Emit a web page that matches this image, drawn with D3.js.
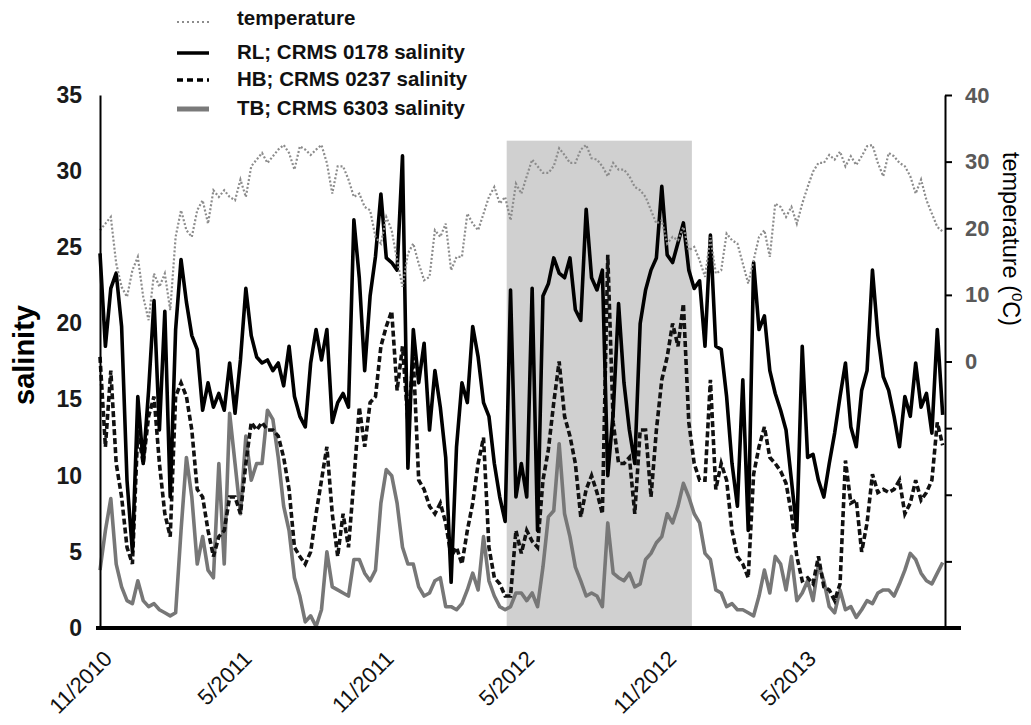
<!DOCTYPE html>
<html>
<head>
<meta charset="utf-8">
<script src="https://cdn.jsdelivr.net/npm/d3@7/dist/d3.min.js"></script>
<style>
  body { margin: 0; background: #fff; }
  svg { font-family: "Liberation Sans", Arial, sans-serif; }
</style>
</head>
<body>
<svg id="svg1" width="1031" height="725"></svg>
<script>
// weekly readings, first one on 19 Oct 2010
var firstDay = new Date(2010, 9, 19);

var rl = [24.6, 18.5, 22.3, 23.3, 19.8, 9.7, 5.0, 15.2, 10.8, 15.6,
  21.5, 13.0, 20.8, 8.6, 19.6, 24.2, 21.4, 19.2, 18.3, 14.3,
  16.1, 14.5, 15.4, 14.3, 17.4, 14.1, 17.6, 22.3, 19.2, 17.8,
  17.4, 17.6, 16.9, 17.4, 15.9, 18.5, 15.2, 13.9, 13.2, 17.4,
  19.6, 17.6, 19.6, 13.5, 14.8, 15.4, 14.5, 26.8, 23.0, 16.9,
  21.8, 24.4, 28.5, 24.3, 24.0, 23.5, 31.0, 10.5, 19.6, 16.1,
  18.7, 13.0, 16.9, 14.5, 11.2, 3.0, 11.9, 16.1, 14.8, 19.8,
  17.8, 14.8, 13.9, 10.8, 8.6, 7.0, 22.2, 8.6, 10.8, 8.6,
  22.3, 6.4, 21.8, 22.6, 24.3, 23.3, 23.0, 24.3, 20.9, 20.2,
  27.5, 23.0, 22.2, 23.5, 10.0, 14.1, 21.3, 16.1, 13.0, 10.8,
  20.0, 22.2, 23.5, 24.3, 29.0, 24.5, 24.0, 25.3, 26.6, 23.5,
  22.3, 22.8, 18.5, 25.8, 18.5, 18.3, 15.2, 10.8, 8.0, 16.3,
  6.4, 24.0, 19.6, 20.5, 16.9, 15.4, 14.3, 13.0, 9.7, 6.4,
  18.5, 11.2, 11.4, 9.7, 8.6, 10.8, 12.8, 15.2, 17.4, 13.2,
  11.9, 15.6, 16.9, 23.5, 19.2, 16.5, 15.6, 13.9, 11.9, 15.2,
  13.9, 17.4, 14.5, 15.4, 12.8, 19.6, 14.0];

var hb = [17.8, 11.9, 16.9, 10.8, 8.6, 5.3, 4.2, 13.0, 10.8, 13.9,
  15.2, 10.8, 7.5, 6.0, 15.2, 16.1, 15.2, 13.0, 9.1, 8.6,
  6.4, 4.7, 6.0, 6.4, 8.6, 8.6, 7.5, 10.8, 13.5, 13.0,
  13.5, 13.0, 13.0, 12.6, 11.2, 9.1, 5.3, 4.7, 4.2, 5.0,
  7.5, 9.7, 11.9, 7.5, 4.7, 7.5, 5.3, 9.7, 14.5, 11.9,
  14.8, 15.2, 18.5, 19.8, 20.8, 15.6, 18.5, 13.5, 17.8, 9.7,
  9.1, 8.0, 7.5, 8.2, 6.9, 4.7, 5.3, 4.2, 6.4, 8.2,
  10.8, 12.5, 5.3, 3.3, 2.9, 2.1, 2.1, 6.4, 4.9, 6.4,
  5.7, 5.3, 9.7, 11.7, 14.8, 17.5, 13.9, 12.6, 10.8, 7.3,
  9.1, 10.0, 8.9, 7.5, 24.5, 13.5, 10.8, 10.8, 11.2, 7.5,
  13.0, 13.0, 8.6, 13.0, 16.3, 17.8, 20.0, 18.5, 21.3, 13.5,
  10.8, 9.7, 9.7, 16.3, 9.1, 10.8, 9.7, 6.4, 4.7, 4.2,
  3.3, 10.1, 11.9, 13.2, 11.2, 10.8, 10.3, 9.5, 7.5, 4.7,
  3.1, 3.3, 2.9, 4.7, 2.7, 2.5, 1.8, 2.9, 11.0, 8.2,
  8.4, 5.0, 6.9, 10.1, 8.9, 9.1, 8.9, 9.1, 9.7, 7.5,
  8.2, 9.7, 8.4, 8.9, 9.7, 13.5, 12.0];

var tb = [3.8, 6.4, 8.5, 4.2, 2.7, 1.8, 1.6, 3.1, 1.8, 1.4,
  1.6, 1.2, 1.0, 0.8, 1.0, 6.4, 11.2, 8.6, 4.2, 6.0,
  3.8, 3.3, 10.8, 4.2, 14.1, 10.8, 7.5, 12.6, 9.7, 10.8,
  10.8, 14.3, 13.7, 11.2, 8.0, 6.4, 3.3, 2.1, 0.4, 0.8,
  0.1, 1.2, 5.0, 2.7, 2.5, 2.3, 2.1, 4.5, 4.5, 3.6,
  3.1, 3.8, 8.2, 10.4, 10.0, 8.2, 5.3, 4.2, 4.2, 2.7,
  2.1, 2.3, 3.1, 3.3, 1.4, 1.4, 1.2, 1.6, 2.5, 3.6,
  2.5, 6.0, 3.1, 2.1, 1.4, 1.2, 1.4, 2.3, 2.3, 1.8,
  2.3, 1.4, 4.0, 7.3, 7.7, 12.1, 7.5, 6.0, 4.0, 3.1,
  2.1, 2.3, 2.1, 1.4, 6.9, 3.6, 3.3, 3.1, 3.6, 2.7,
  2.9, 4.5, 4.9, 5.6, 6.0, 7.5, 6.9, 8.0, 9.5, 8.6,
  7.5, 6.9, 4.9, 4.5, 2.5, 2.3, 1.4, 1.6, 1.2, 1.2,
  1.0, 0.8, 2.1, 3.8, 2.3, 4.7, 4.2, 2.5, 4.7, 1.8,
  2.3, 3.1, 1.8, 4.2, 3.1, 1.4, 1.0, 2.5, 1.2, 1.4,
  0.7, 1.2, 1.8, 1.6, 2.3, 2.5, 2.5, 2.1, 2.9, 3.8,
  4.9, 4.5, 3.6, 3.1, 2.9, 3.6, 4.3];

var temperature = [19.7, 20.7, 21.7, 14.7, 11.2, 9.7, 13.7, 15.7, 9.7, 6.2,
  13.2, 11.2, 13.2, 7.7, 18.7, 22.7, 19.7, 18.7, 22.7, 24.2,
  20.7, 25.7, 24.7, 25.7, 24.7, 24.2, 27.3, 24.7, 29.3, 30.3,
  31.3, 29.8, 30.8, 31.8, 32.5, 31.3, 28.8, 32.3, 31.8, 31.0,
  31.8, 32.5, 29.8, 25.2, 29.3, 29.3, 27.3, 24.7, 25.2, 23.2,
  22.7, 18.7, 17.7, 21.7, 19.7, 15.2, 11.2, 16.2, 17.7, 14.7,
  12.2, 12.7, 19.7, 18.7, 20.7, 13.7, 15.7, 15.7, 22.2, 20.7,
  19.7, 22.2, 24.7, 26.2, 23.7, 24.7, 21.2, 26.7, 25.2, 27.8,
  30.3, 29.3, 28.3, 28.3, 29.3, 32.0, 31.0, 29.8, 29.8, 31.8,
  32.5, 30.5, 30.3, 29.3, 27.8, 29.8, 28.8, 28.8, 27.8, 26.2,
  25.7, 24.7, 22.7, 20.7, 21.2, 17.7, 18.7, 18.2, 20.2, 16.7,
  17.2, 15.2, 12.7, 18.7, 13.2, 13.7, 19.2, 18.2, 17.7, 14.7,
  11.7, 15.2, 18.7, 19.7, 15.7, 23.7, 23.2, 21.7, 23.2, 20.7,
  23.7, 26.2, 28.5, 29.8, 29.8, 31.0, 30.3, 31.5, 29.3, 30.8,
  29.5, 30.8, 32.3, 32.5, 29.8, 27.8, 31.3, 30.8, 29.8, 29.3,
  27.8, 25.2, 27.3, 24.2, 22.2, 20.2, 19.5];

var salinityTicks = [0, 5, 10, 15, 20, 25, 30, 35];
var tempTicks = [-40, -30, -20, -10, 0, 10, 20, 30, 40];
var dateTicks = [new Date(2010, 10, 1), new Date(2011, 4, 1), new Date(2011, 10, 1),
  new Date(2012, 4, 1), new Date(2012, 10, 1), new Date(2013, 4, 1)];

// grey band: late March to late November 2012
var bandDates = [new Date(2012, 2, 29), new Date(2012, 10, 24)];
var bandTop = 32;

var legendNames = ['temperature', 'RL; CRMS 0178 salinity', 'HB; CRMS 0237 salinity', 'TB; CRMS 6303 salinity'];

var svg = d3.select('svg');

var x = d3.scaleTime()
    .domain([new Date(2010, 9, 19), new Date(2013, 9, 18)])
    .range([100, 945]);
var y = d3.scaleLinear().domain([0, 35]).range([628, 95]);
var y2 = d3.scaleLinear().domain([-40, 40]).range([628, 95]);

function weekDate(i) { return d3.timeDay.offset(firstDay, 7 * i); }

// shaded period
svg.append('rect')
    .attr('x', x(bandDates[0]))
    .attr('y', y(bandTop))
    .attr('width', x(bandDates[1]) - x(bandDates[0]))
    .attr('height', y(0) - y(bandTop))
    .attr('fill', '#d0d0d0');

var salLine = d3.line()
    .x(function(d, i) { return x(weekDate(i)); })
    .y(function(d) { return y(d); });
var tempLine = d3.line()
    .x(function(d, i) { return x(weekDate(i)); })
    .y(function(d) { return y2(d); });

svg.append('path').datum(tb).attr('d', salLine)
    .attr('fill', 'none').attr('stroke', '#777').attr('stroke-width', 3.6)
    .attr('stroke-linejoin', 'round');
svg.append('path').datum(hb).attr('d', salLine)
    .attr('fill', 'none').attr('stroke', '#111').attr('stroke-width', 3.6)
    .attr('stroke-dasharray', '6,3');
svg.append('path').datum(rl).attr('d', salLine)
    .attr('fill', 'none').attr('stroke', '#000').attr('stroke-width', 3.6)
    .attr('stroke-linejoin', 'round');
svg.append('path').datum(temperature).attr('d', tempLine)
    .attr('fill', 'none').attr('stroke', '#8c8c8c').attr('stroke-width', 2.2)
    .attr('stroke-dasharray', '2,2');

// left axis
var gLeft = svg.append('g')
    .attr('transform', 'translate(' + x.range()[0] + ',0)')
    .call(d3.axisLeft(y).tickValues(salinityTicks).tickSize(0).tickSizeOuter(0).tickPadding(18));
gLeft.select('.domain').attr('stroke', '#000').attr('stroke-width', 2);
gLeft.selectAll('text')
    .attr('font-size', 23).attr('font-weight', 'bold').attr('fill', '#1a1a1a')
    .attr('font-family', '"Liberation Sans", Arial, sans-serif');

// right axis
var gRight = svg.append('g')
    .attr('transform', 'translate(' + x.range()[1] + ',0)')
    .call(d3.axisRight(y2).tickValues(tempTicks).tickSize(7).tickSizeOuter(0).tickPadding(13)
        .tickFormat(function(d) { return d >= 0 ? d : ''; }));
gRight.select('.domain').attr('stroke', '#000').attr('stroke-width', 2);
gRight.selectAll('.tick line').attr('stroke', '#000').attr('stroke-width', 2);
gRight.selectAll('text')
    .attr('font-size', 22).attr('font-weight', 'bold').attr('fill', '#595959')
    .attr('font-family', '"Liberation Sans", Arial, sans-serif');

// bottom axis
var gBottom = svg.append('g')
    .attr('transform', 'translate(0,' + y(0) + ')')
    .call(d3.axisBottom(x).tickValues(dateTicks).tickSize(0).tickSizeOuter(0)
        .tickFormat(function(d) { return (d.getMonth() + 1) + '/' + d.getFullYear(); }));
gBottom.select('.domain').remove();
gBottom.append('line')
    .attr('x1', x.range()[0] - 4).attr('x2', x.range()[1] + 16)
    .attr('stroke', '#000').attr('stroke-width', 4);
gBottom.selectAll('text')
    .attr('font-size', 22).attr('fill', '#111')
    .attr('font-family', '"Liberation Sans", Arial, sans-serif')
    .attr('x', 0).attr('y', 0).attr('dy', 0)
    .attr('transform', 'translate(3,32) rotate(-45)')
    .style('text-anchor', 'end');

// axis titles
svg.append('text')
    .attr('transform', 'translate(34,355) rotate(-90)')
    .attr('text-anchor', 'middle')
    .attr('font-size', 29).attr('font-weight', 'bold')
    .text('salinity');

var rt = svg.append('text')
    .attr('transform', 'translate(1003,239) rotate(90)')
    .attr('text-anchor', 'middle')
    .attr('font-size', 23.5);
rt.append('tspan').text('temperature (');
rt.append('tspan').attr('font-size', 15).attr('dy', -9).text('0');
rt.append('tspan').attr('dy', 9).text('C)');

// legend
var legendStyles = [
    { stroke: '#8c8c8c', width: 2, dash: '2,3' },
    { stroke: '#000', width: 3.5, dash: null },
    { stroke: '#000', width: 3.5, dash: '6,4' },
    { stroke: '#7a7a7a', width: 5, dash: null }
];
var legendY = [18, 52, 79, 108];

var legend = svg.append('g');
var items = legend.selectAll('g')
    .data(legendNames)
    .enter()
    .append('g')
    .attr('transform', function(d, i) { return 'translate(177,' + legendY[i] + ')'; });
items.append('line')
    .attr('x1', 0).attr('x2', 32)
    .attr('y1', function(d, i) { return i === 0 ? 4 : 1; })
    .attr('y2', function(d, i) { return i === 0 ? 4 : 1; })
    .attr('stroke', function(d, i) { return legendStyles[i].stroke; })
    .attr('stroke-width', function(d, i) { return legendStyles[i].width; })
    .attr('stroke-dasharray', function(d, i) { return legendStyles[i].dash; });
items.append('text')
    .attr('x', 60).attr('dy', '0.35em')
    .attr('font-size', 20.5).attr('font-weight', 'bold')
    .attr('fill', '#111')
    .text(function(d) { return d; });
</script>
</body>
</html>
